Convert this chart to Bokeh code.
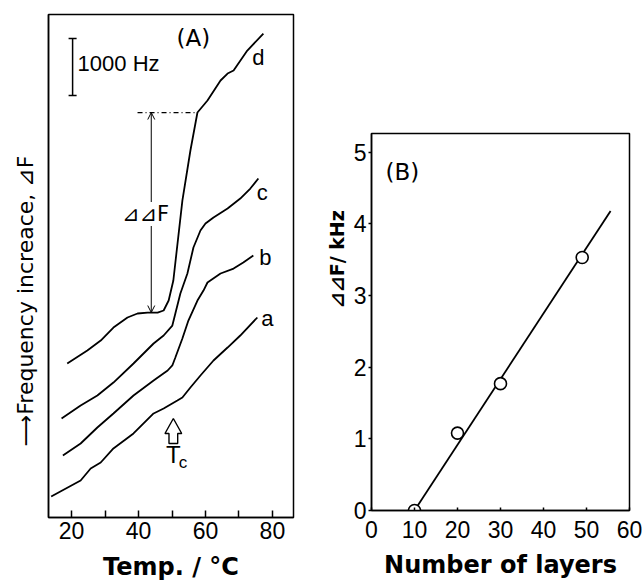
from bokeh.plotting import figure
from bokeh.layouts import row
from bokeh.models import Range1d, FixedTicker, Label, Arrow, OpenHead
from bokeh.embed import file_html
from bokeh.resources import INLINE
from bokeh.core.properties import value

# ---------------- Panel (A): frequency increase vs temperature ----------------
temp_a = [13.9, 22.7, 25.7, 28.7, 32.5, 38.5, 44.5, 47.5, 51.6, 53.1, 55.5, 58.5, 62.4, 66.6, 70.4, 75.5]
freq_a = [368, 649, 860, 965, 1211, 1474, 1825, 1912, 2053, 2105, 2281, 2491, 2754, 2982, 3193, 3509]

temp_b = [17.4, 22.7, 27.7, 32.5, 38.5, 44.5, 48.7, 50.1, 51.0, 53.1, 54.9, 57.6, 59.4, 60.6, 64.5, 68.4, 71.3, 74.3]
freq_b = [1088, 1298, 1579, 1825, 2140, 2404, 2579, 2667, 2807, 3140, 3456, 3807, 3982, 4123, 4281, 4368, 4474, 4596]

temp_c = [17.0, 22.7, 27.7, 32.5, 38.5, 44.5, 47.5, 50.1, 51.0, 52.5, 54.6, 56.4, 58.5, 60.0, 62.4, 66.6, 70.4, 73.4, 75.8]
freq_c = [1737, 1965, 2140, 2368, 2702, 3053, 3193, 3368, 3579, 3930, 4281, 4737, 5035, 5158, 5263, 5421, 5596, 5772, 5947]

temp_d = [18.7, 24.7, 28.7, 32.5, 36.7, 39.7, 42.7, 45.7, 47.5, 49.0, 50.4, 53.1, 55.5, 57.6, 60.6, 64.5, 66.6, 68.4, 72.5, 77.3]
freq_d = [2702, 2930, 3105, 3333, 3509, 3579, 3596, 3596, 3632, 3807, 4158, 5561, 6439, 7105, 7316, 7667, 7789, 7842, 8193, 8491]

curve_names = ["a", "b", "c", "d"]
curve_label_temp = [78.5, 77.9, 77.0, 75.8]
curve_label_freq = [3491, 4561, 5702, 8070]

temp_ticks = [20, 40, 60, 80]
temp_minor_ticks = [30, 50, 70]

SCALE_BAR_HZ = 1000          # scale bar length
DDF_LOW = 3596               # plateau of curve d
DDF_HIGH = 7105              # knee of curve d
TC = 50                      # transition temperature

# ---------------- Panel (B): ΔΔF vs number of layers ----------------
layers = [10, 20, 30, 49]
ddf_khz = [0.0, 1.08, 1.77, 3.53]
fit_layers = [10, 55.6]
fit_ddf = [0.0, 4.18]
layer_ticks = [0, 10, 20, 30, 40, 50, 60]
ddf_ticks = [0, 1, 2, 3, 4, 5]

TICK_FONT = "Liberation Sans"
BLACK = "black"
NB = "\u00a0"

# ======================= figure A =======================
pa = figure(width=298, height=586, x_range=Range1d(13.1, 86.3), y_range=Range1d(0, 8825),
            output_backend="svg", toolbar_location=None, frame_align=False,
            min_border_left=48, min_border_right=5, min_border_top=14, min_border_bottom=69)
pa.grid.visible = False
pa.outline_line_color = BLACK
pa.outline_line_width = 1.5
pa.outline_line_alpha = 1.0

xa = pa.xaxis[0]
xa.ticker = FixedTicker(ticks=temp_ticks, minor_ticks=temp_minor_ticks)
xa.major_tick_in = 7
xa.major_tick_out = 0
xa.minor_tick_in = 7
xa.minor_tick_out = 0
xa.major_tick_line_width = 1.5
xa.minor_tick_line_width = 1.5
xa.major_tick_line_color = BLACK
xa.minor_tick_line_color = BLACK
xa.axis_line_color = BLACK
xa.axis_line_width = 1.5
xa.major_label_text_font = TICK_FONT
xa.major_label_text_font_size = "23px"
xa.major_label_text_color = BLACK
xa.major_label_standoff = 4
xa.axis_label = "Temp. / °C"
xa.axis_label_text_font = "DejaVu Sans"
xa.axis_label_text_font_style = "bold"
xa.axis_label_text_font_size = "24px"
xa.axis_label_text_color = BLACK
xa.axis_label_standoff = 11

ya = pa.yaxis[0]
ya.ticker = FixedTicker(ticks=[])
ya.major_tick_in = 0
ya.major_tick_out = 0
ya.minor_tick_in = 0
ya.minor_tick_out = 0
ya.major_label_standoff = 0
ya.axis_line_color = BLACK
ya.axis_line_width = 1.5
ya.axis_label = "⟶Frequency increace, ⊿F" + NB * 10
ya.axis_label_text_font = "DejaVu Sans"
ya.axis_label_text_font_style = "normal"
ya.axis_label_text_font_size = "22px"
ya.axis_label_text_color = BLACK
ya.axis_label_standoff = 11

for tx, fy in [(temp_a, freq_a), (temp_b, freq_b), (temp_c, freq_c), (temp_d, freq_d)]:
    pa.line(tx, fy, line_color=BLACK, line_width=1.8)

pa.text(x=curve_label_temp, y=curve_label_freq, text=curve_names,
        text_font=value(TICK_FONT), text_font_size="22px", text_color=BLACK,
        text_align="center", text_baseline="middle")

# scale bar (1000 Hz)
sb_t, sb_lo = 20.3, 7404
sb_hi = sb_lo + SCALE_BAR_HZ
pa.segment(x0=[sb_t, sb_t - 1.2, sb_t - 1.2], y0=[sb_lo, sb_lo, sb_hi],
           x1=[sb_t, sb_t + 1.2, sb_t + 1.2], y1=[sb_hi, sb_lo, sb_hi],
           line_color=BLACK, line_width=1.5)
pa.add_layout(Label(x=21.8, y=sb_lo + SCALE_BAR_HZ / 2 + 60, text="1000 Hz", text_font=TICK_FONT,
                    text_font_size="22px", text_color=BLACK, text_baseline="middle", text_align="left"))
pa.add_layout(Label(x=56.4, y=8421, text="(A)", text_font="DejaVu Sans", text_font_size="23px",
                    text_color=BLACK, text_baseline="middle", text_align="center"))

# ΔΔF construction
pa.segment(x0=[39.7], y0=[DDF_HIGH], x1=[57.6], y1=[DDF_HIGH], line_color=BLACK,
           line_width=1.3, line_dash="5 3 1 3")
pa.add_layout(Arrow(x_start=43.8, y_start=DDF_LOW, x_end=43.8, y_end=DDF_HIGH,
                    line_color=BLACK, line_width=1.0,
                    start=OpenHead(size=7, line_width=1.0, line_color=BLACK),
                    end=OpenHead(size=7, line_width=1.0, line_color=BLACK)))
pa.add_layout(Label(x=42.1, y=5324, text="⊿⊿F", text_font="DejaVu Sans", text_font_size="21px",
                    text_color=BLACK, text_baseline="middle", text_align="center",
                    background_fill_color="white", background_fill_alpha=1.0))

# Tc hollow arrow
pa.patch(x=[TC + 0.4, TC + 2.9, TC + 1.7, TC + 1.7, TC - 0.9, TC - 0.9, TC - 2.1],
         y=[1737, 1474, 1474, 1298, 1298, 1474, 1474],
         fill_color="white", line_color=BLACK, line_width=1.4)
pa.text(x=[TC + 0.4], y=[1105], text=["T"], text_font=value(TICK_FONT), text_font_size="24px",
        text_align="center", text_baseline="middle", text_color=BLACK)
pa.text(x=[TC + 3.3], y=[960], text=["c"], text_font=value(TICK_FONT), text_font_size="17px",
        text_align="center", text_baseline="middle", text_color=BLACK)

# ======================= figure B =======================
pb = figure(width=344, height=586, x_range=Range1d(0, 60), y_range=Range1d(0, 5.26),
            output_backend="svg", toolbar_location=None, frame_align=False,
            min_border_left=73, min_border_right=13, min_border_top=133, min_border_bottom=76)
pb.grid.visible = False
pb.outline_line_color = BLACK
pb.outline_line_width = 1.5
pb.outline_line_alpha = 1.0

xb = pb.xaxis[0]
xb.ticker = FixedTicker(ticks=layer_ticks)
xb.major_tick_in = 3
xb.major_tick_out = 0
xb.minor_tick_in = 0
xb.minor_tick_out = 0
xb.major_label_standoff = 10
xb.axis_label = "Number of layers"
xb.axis_label_standoff = 10

yb = pb.yaxis[0]
yb.ticker = FixedTicker(ticks=ddf_ticks)
yb.major_tick_in = 0
yb.major_tick_out = 3
yb.minor_tick_in = 0
yb.minor_tick_out = 0
yb.major_label_standoff = 2
yb.axis_label = NB * 19 + "⊿⊿F/ kHz"
yb.axis_label_standoff = 3

for ax in (xb, yb):
    ax.axis_line_color = BLACK
    ax.axis_line_width = 1.5
    ax.major_tick_line_color = BLACK
    ax.major_tick_line_width = 1.5
    ax.major_label_text_font = TICK_FONT
    ax.major_label_text_font_size = "23px"
    ax.major_label_text_color = BLACK
    ax.axis_label_text_font = "DejaVu Sans"
    ax.axis_label_text_font_style = "bold"
    ax.axis_label_text_color = BLACK
xb.axis_label_text_font_size = "24px"
yb.axis_label_text_font_size = "19px"

pb.line(fit_layers, fit_ddf, line_color=BLACK, line_width=1.8)
pb.scatter(layers, ddf_khz, marker="circle", size=12, fill_color="white",
           line_color=BLACK, line_width=1.6)

pb.add_layout(Label(x=7.2, y=4.72, text="(B)", text_font="DejaVu Sans", text_font_size="23px",
                    text_color=BLACK, text_baseline="middle", text_align="center"))

layout = row(pa, pb)
with open("out.html", "w") as f:
    f.write(file_html(layout, INLINE))
